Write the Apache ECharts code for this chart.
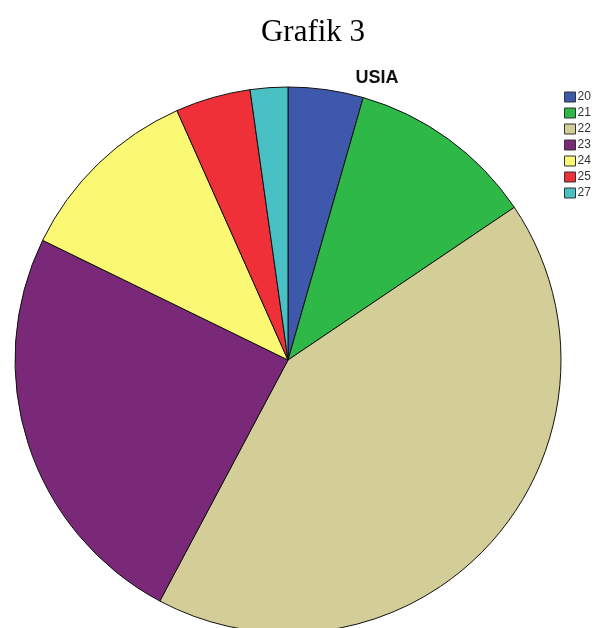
<!DOCTYPE html>
<html>
<head>
<meta charset="utf-8">
<script src="https://cdn.jsdelivr.net/npm/echarts@6/dist/echarts.min.js"></script>
<style>
  html, body { margin: 0; padding: 0; background: #ffffff; }
  #chart { width: 592px; height: 628px; }
</style>
</head>
<body>
<div id="chart"></div>
<script>
// Age groups (USIA) and respondent counts
const ages = ['20', '21', '22', '23', '24', '25', '27'];
const counts = [2, 5, 19, 11, 5, 2, 1];
const sliceColors = ['#3e58ac', '#2eb848', '#d3ce97', '#7a2878', '#fbf873', '#ef3038', '#48c0c4'];

const chart = echarts.init(document.getElementById('chart'), null, { renderer: 'canvas' });

chart.setOption({
  backgroundColor: '#ffffff',
  animation: false,
  title: [
    {
      text: 'Grafik 3',
      left: 308,
      top: 12,
      textAlign: 'center',
      textStyle: { fontFamily: 'Liberation Serif', fontSize: 31, fontWeight: 'normal', color: '#000000' }
    },
    {
      text: 'USIA',
      left: 372,
      top: 64,
      textAlign: 'center',
      textStyle: { fontFamily: 'Liberation Sans', fontSize: 18, fontWeight: 'bold', color: '#111111' }
    }
  ],
  legend: {
    orient: 'vertical',
    left: 564,
    top: 91,
    padding: 0,
    itemWidth: 11,
    itemHeight: 10,
    itemGap: 4,
    icon: 'rect',
    selectedMode: false,
    itemStyle: { borderColor: '#333333', borderWidth: 1 },
    textStyle: { fontFamily: 'Liberation Sans', fontSize: 12, color: '#333333', lineHeight: 10, padding: [0, 0, 0, -3] },
    data: ages
  },
  series: [{
    type: 'pie',
    center: [288, 360],
    radius: 273,
    startAngle: 90,
    clockwise: true,
    label: { show: false },
    labelLine: { show: false },
    emphasis: { disabled: true },
    itemStyle: { borderColor: '#111111', borderWidth: 1 },
    data: ages.map((a, i) => ({ name: a, value: counts[i], itemStyle: { color: sliceColors[i] } }))
  }]
});
</script>
</body>
</html>
